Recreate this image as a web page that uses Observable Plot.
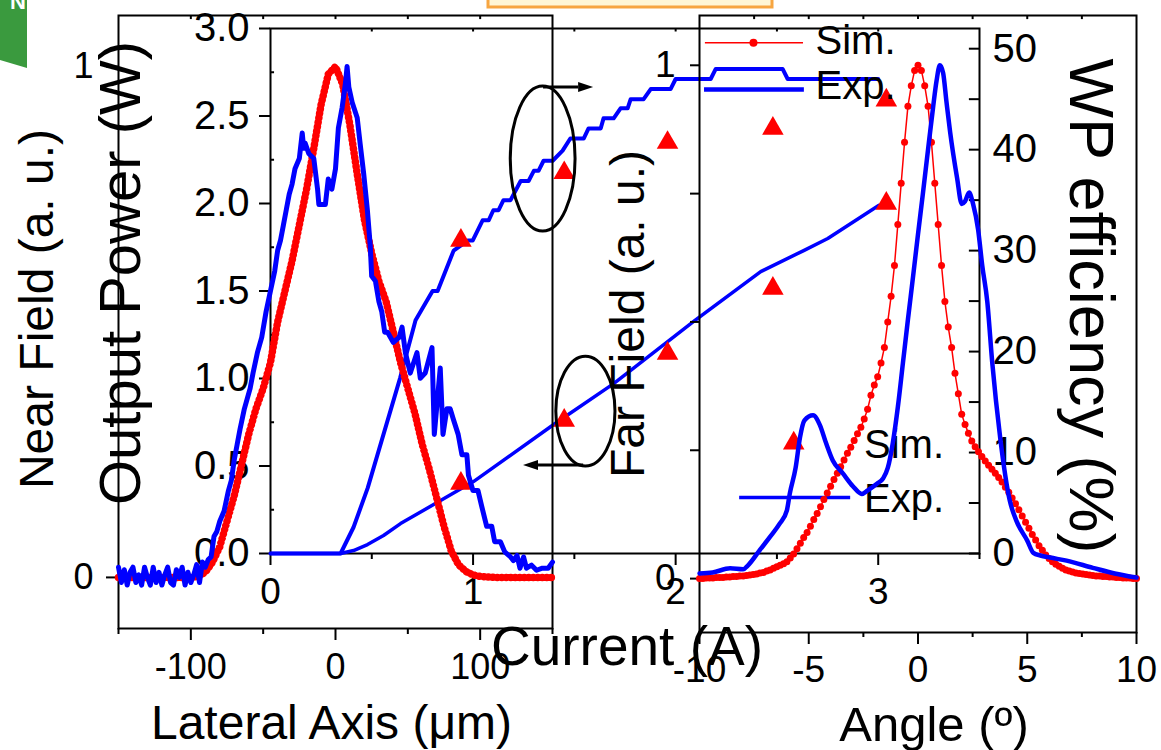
<!DOCTYPE html>
<html><head><meta charset="utf-8">
<script src="https://cdn.jsdelivr.net/npm/d3@7"></script>
<script src="https://cdn.jsdelivr.net/npm/@observablehq/plot@0.6"></script>
<style>
html,body{margin:0;padding:0;background:#fff;}
#chart{position:relative;width:1161px;height:750px;overflow:hidden;background:#fff;}
#chart svg{position:absolute;left:0;top:0;}
</style></head><body><div id="chart"></div>
<script>
// ---------------- DATA ----------------
// Near field (lateral axis in µm, normalized intensity)
const nfExpX = [-150,-148,-146,-144,-142,-140,-138,-136,-134,-132,-130,-128,-126,-124,-122,-120,-118,-116,-114,-112,-110,-108,-106,-104,-102,-100,-98,-96,-94,-92,
  -90,-88,-86,-84,-82,-80,-77,-74,-72,-70,-68,-66,-63,-61,-59,-57,-54,-51,-48,-45,-42,-40,-38,-36,-34,-32,-30,-28,-25,-23,-22,-21,-18.5,-15,-12.4,-11.5,-7,-5,-2.5,0,2,4.6,7,8,9.2,11.5,15,17,19.5,22,24,25,27.6,30,32,34,36,40,44,46,48.3,51.7,56.3,58.6,62,66.7,68.3,72.4,74.3,77,79.3,81.4,84.8,87.4,90.8,91.9,95,98.5,101,104.5,108,110,114,117,121,123,125.5,127.5,130,132,135.5,139,143,147,150];
const nfExpY = [0.02,-0.01,0.015,-0.015,0.01,0.02,-0.01,0.005,-0.015,0.02,0.0,-0.015,0.02,-0.01,0.01,-0.015,0.005,0.02,-0.01,-0.015,0.015,0.0,0.02,-0.015,0.01,-0.01,0.005,0.025,-0.01,0.03,
  0.02,0.035,0.04,0.08,0.09,0.11,0.13,0.17,0.19,0.23,0.26,0.29,0.33,0.35,0.37,0.40,0.44,0.47,0.52,0.56,0.60,0.64,0.66,0.69,0.72,0.75,0.77,0.80,0.82,0.87,0.84,0.85,0.83,0.82,0.76,0.73,0.73,0.78,0.76,0.80,0.88,0.92,0.97,1.0,0.96,0.93,0.90,0.85,0.79,0.72,0.65,0.59,0.58,0.54,0.52,0.48,0.48,0.46,0.47,0.49,0.44,0.40,0.44,0.39,0.40,0.45,0.28,0.41,0.28,0.33,0.33,0.31,0.28,0.24,0.24,0.20,0.17,0.17,0.14,0.10,0.10,0.07,0.07,0.05,0.04,0.033,0.043,0.018,0.04,0.018,0.024,0.014,0.018,0.018,0.03];
const nfSimX = [-150,-100,-95,-90,-85,-80,-75,-70,-65,-60,-55,-50,-45,-40,-35,-30,-25,-20,-15,-10,-5,0,5,10,15,20,25,30,35,40,45,50,55,60,65,70,75,80,85,90,95,100,110,150];
const nfSimY = [0,0,0.002,0.01,0.03,0.06,0.11,0.16,0.22,0.28,0.33,0.37,0.42,0.50,0.56,0.62,0.69,0.76,0.84,0.925,0.985,1.0,0.965,0.885,0.79,0.70,0.635,0.58,0.54,0.48,0.42,0.37,0.32,0.26,0.21,0.155,0.10,0.052,0.025,0.012,0.005,0.002,0,0];

// Power / efficiency vs current (A)
const pwEffCurrent = [0,0.346,0.41,0.48,0.64,0.716,0.80,0.825,0.904,0.973,0.998,1.047,1.077,1.10,1.126,1.15,1.185,1.235,1.274,1.30,1.323,1.348,1.393,1.442,1.48,1.546,1.57,1.63,1.644,1.694,1.728,1.763,1.778,1.842,1.877,1.975,2.0,2.173,2.198,2.528,2.553,3.0];
const pwEff = [0,0,2.6,6.5,17.4,23.1,26.0,26.0,30.0,31.0,31.0,33.0,33.0,34.0,34.0,35.0,35.0,36.9,36.9,37.9,37.9,38.9,38.9,39.9,41.1,41.1,42.1,42.1,43.1,43.1,44.1,44.1,45.0,45.0,46.0,46.0,47.0,47.0,48.0,48.0,47.0,47.0];
const pwPowerCurrent = [0,0.346,0.41,0.479,0.558,0.642,1.002,1.398,1.694,2.089,2.42,2.632,2.751,3.002];
const pwPower = [0,0,0.017,0.051,0.103,0.171,0.411,0.737,0.971,1.326,1.611,1.731,1.80,1.989];
const simCurrent = [0.94,1.45,1.96,2.48,3.04];
const simEff = [31.0,37.7,40.7,42.1,44.9];
const simPower = [0.40,0.76,1.143,1.514,2.0];

// Far field (angle in degrees)
const ffExpX = [-10,-9.4,-8.6,-8.0,-7.8,-7.25,-6.8,-6.33,-6.0,-5.87,-5.6,-5.4,-5.2,-4.8,-4.5,-4.2,-3.9,-3.44,-2.98,-2.57,-2.3,-1.88,-1.6,-1.38,-1.15,-0.92,-0.69,-0.46,-0.23,0,0.23,0.46,0.69,0.85,1.0,1.15,1.3,1.47,1.79,2.0,2.15,2.34,2.52,2.75,2.94,3.17,3.4,3.76,4.2,4.5,5.0,5.28,5.6,6.05,6.8,8.0,9.0,10];
const ffExpY = [0.01,0.012,0.02,0.018,0.025,0.055,0.08,0.107,0.133,0.165,0.216,0.275,0.308,0.318,0.30,0.263,0.23,0.205,0.18,0.165,0.172,0.185,0.195,0.216,0.265,0.335,0.42,0.505,0.587,0.671,0.752,0.836,0.918,0.97,1.0,0.985,0.93,0.87,0.78,0.73,0.735,0.752,0.73,0.68,0.61,0.54,0.42,0.275,0.152,0.113,0.074,0.05,0.045,0.041,0.035,0.021,0.01,0.002];
const ffSimStart = -10, ffSimStep = 20 / 130;
const ffSimY = [0.000,0.000,0.001,0.001,0.001,0.002,0.002,0.002,0.003,0.003,
  0.004,0.004,0.005,0.005,0.006,0.007,0.008,0.009,0.011,0.012,
  0.015,0.017,0.020,0.023,0.026,0.029,0.033,0.040,0.048,0.058,
  0.069,0.080,0.090,0.102,0.115,0.127,0.140,0.154,0.167,0.180,
  0.193,0.205,0.218,0.231,0.244,0.256,0.269,0.282,0.295,0.311,
  0.330,0.357,0.377,0.393,0.420,0.450,0.500,0.550,0.610,0.690,
  0.770,0.850,0.920,0.960,0.990,1.000,
  0.990,0.960,0.920,0.850,0.770,0.690,0.610,0.540,0.490,0.450,
  0.400,0.360,0.320,0.300,0.283,0.268,0.257,0.247,0.238,0.229,
  0.221,0.213,0.205,0.197,0.188,0.178,0.168,0.157,0.146,0.134,
  0.122,0.110,0.098,0.086,0.075,0.064,0.055,0.046,0.039,0.033,
  0.028,0.024,0.020,0.017,0.015,0.013,0.011,0.010,0.009,0.008,
  0.007,0.006,0.005,0.005,0.004,0.004,0.003,0.003,0.002,0.002,
  0.001,0.001,0.001,0.000,0.000];

// Tick values
const nfXMajor = [-100,0,100], nfXMinor = [-150,-50,50,150], nfYTicks = [0,1], nfTopTicks = [-100,-50,0,50,100];
const pwXMajor = [0,1,2,3], pwXMinor = [0.5,1.5,2.5,3.5], pwYTicks = [0,0.5,1,1.5,2,2.5,3], pwYMinor = [0.25,0.75,1.25,1.75,2.25,2.75], pwTopTicks = [0.5,1,1.5,2,2.5,3];
const effMajor = [0,10,20,30,40,50], effAll = [0,5,10,15,20,25,30,35,40,45,50];
const ffXMajor = [-10,-5,0,5,10], ffXMinor = [-7.5,-2.5,2.5,7.5], ffYTicks = [0,0.25,0.5,0.75,1], ffYLabels = [0,1], ffTopTicks = [-7.5,-5,-2.5,0,2.5,5,7.5];

// ---------------- RENDER ----------------
const W = 1161, H = 750;
const FONT = "'Liberation Sans', Arial, Helvetica, sans-serif";
const BLUE = "#0000ff", RED = "#ff0000";
const EFF_MAX = 52, P_MAX = 3;
const toW = e => e * P_MAX / EFF_MAX;
const st = () => ({background: "transparent", fontFamily: FONT, color: "black"});
const zip = (xs, ys, kx, ky) => xs.map((x, i) => ({[kx]: x, [ky]: ys[i]}));
const title = (t, o) => Plot.text([t], {text: d => d, textAnchor: "middle", lineAnchor: "middle", ...o});

const nfExp = zip(nfExpX, nfExpY, "x", "y");
const nfSim = zip(nfSimX, nfSimY, "x", "y");
const effRows = zip(pwEffCurrent, pwEff, "current", "eff");
const powRows = zip(pwPowerCurrent, pwPower, "current", "power");
const simRows = simCurrent.map((c, i) => ({current: c, eff: simEff[i], power: simPower[i]}));
const ffExp = zip(ffExpX, ffExpY, "x", "y");
const ffSim = ffSimY.map((y, i) => ({x: ffSimStart + i * ffSimStep, y}));
const lbl = d => String(d);

// --- Power / WP efficiency chart ---
const pw = Plot.plot({
  width: W, height: H, marginLeft: 270, marginRight: W - 979, marginTop: 28, marginBottom: H - 553,
  style: st(),
  x: {domain: [0, 3.5], label: null}, y: {domain: [0, P_MAX], label: null},
  marks: [
    Plot.frame({stroke: "black", strokeWidth: 2}),
    Plot.axisX(pwXMajor, {tickSize: 12, tickPadding: 12, strokeWidth: 2, fontSize: 37, tickFormat: lbl, label: null}),
    Plot.axisX(pwXMinor, {tickSize: 6, strokeWidth: 2, tickFormat: () => "", label: null}),
    Plot.axisY(pwYTicks, {tickSize: 11, tickPadding: 10, strokeWidth: 2, fontSize: 40, tickFormat: d => d.toFixed(1), label: null}),
    Plot.ruleY(pwYMinor, {x1: 0, x2: 0.02, strokeWidth: 2}),
    Plot.ruleX(pwTopTicks, {y1: P_MAX, y2: P_MAX - 0.02, strokeWidth: 2}),
    Plot.axisY(effMajor.map(toW), {anchor: "right", tickSize: 0, tickPadding: 13, fontSize: 40, tickFormat: d => String(Math.round(d * EFF_MAX / P_MAX)), label: null}),
    Plot.ruleY(effAll.map(toW), {x1: 3.45, x2: 3.5, strokeWidth: 2}),
    Plot.line(powRows, {x: "current", y: "power", stroke: BLUE, strokeWidth: 3.5}),
    Plot.line(effRows, {x: "current", y: d => toW(d.eff), stroke: BLUE, strokeWidth: 4}),
    Plot.dot(simRows, {x: "current", y: d => toW(d.eff), symbol: "triangle", r: 8, fill: RED}),
    Plot.dot(simRows, {x: "current", y: "power", symbol: "triangle", r: 8, fill: RED}),
    // legend
    Plot.dot([0], {x: 2.583, y: 0.63, symbol: "triangle", r: 8, fill: RED}),
    Plot.text(["Sim."], {text: d => d, x: 2.93, y: 0.617, textAnchor: "start", fontSize: 40}),
    Plot.ruleY([0.32], {x1: 2.316, x2: 2.864, stroke: BLUE, strokeWidth: 3.5}),
    Plot.text(["Exp."], {text: d => d, x: 2.93, y: 0.309, textAnchor: "start", fontSize: 40}),
    // titles
    title("Output Power (W)", {frameAnchor: "left", rotate: -90, dx: -149, dy: -18, fontSize: 58}),
    title("Current (A)", {frameAnchor: "bottom", dx: 2, dy: 94, fontSize: 55}),
    title("WP efficiency (%)", {frameAnchor: "right", rotate: 90, dx: 111, dy: 15, fontSize: 63})
  ]
});
// annotations (ellipses with arrows) in power-chart units
const ellipses = [{cx: 1.346, cy: 2.254, rx: 0.16, ry: 0.414}, {cx: 1.557, cy: 0.811, rx: 0.146, ry: 0.314}];
const arrows = [{x1: 1.348, x2: 1.595, y: 2.663}, {x1: 1.546, x2: 1.249, y: 0.503}];
{
  const sx = pw.scale("x"), sy = pw.scale("y");
  const g = d3.select(pw).append("g");
  for (const e of ellipses) {
    g.append("ellipse").attr("cx", sx.apply(e.cx)).attr("cy", sy.apply(e.cy))
      .attr("rx", Math.abs(sx.apply(e.cx + e.rx) - sx.apply(e.cx)))
      .attr("ry", Math.abs(sy.apply(e.cy + e.ry) - sy.apply(e.cy)))
      .attr("fill", "none").attr("stroke", "black").attr("stroke-width", 3);
  }
  for (const a of arrows) {
    const X1 = sx.apply(a.x1), X2 = sx.apply(a.x2), Y = sy.apply(a.y);
    const dir = Math.sign(X2 - X1), hl = 15, hw = 5;
    g.append("line").attr("x1", X1).attr("x2", X2 - dir * hl).attr("y1", Y).attr("y2", Y).attr("stroke", "black").attr("stroke-width", 3);
    g.append("path").attr("d", `M${X2},${Y}L${X2 - dir * hl},${Y - hw}L${X2 - dir * hl},${Y + hw}Z`).attr("fill", "black");
  }
}

// --- Near field chart ---
const nf = Plot.plot({
  width: W, height: H, marginLeft: 118, marginRight: W - 552, marginTop: 15, marginBottom: H - 628,
  style: st(),
  x: {domain: [-150, 150], label: null}, y: {domain: [-0.1, 1.1], label: null},
  marks: [
    Plot.frame({stroke: "black", strokeWidth: 2}),
    Plot.axisX(nfXMajor, {tickSize: 12, tickPadding: 13, strokeWidth: 2, fontSize: 36, tickFormat: lbl, label: null}),
    Plot.axisX(nfXMinor, {tickSize: 6, strokeWidth: 2, tickFormat: () => "", label: null}),
    Plot.axisY(nfYTicks, {tickSize: 12, tickPadding: 13, strokeWidth: 2, fontSize: 36, tickFormat: lbl, label: null}),
    Plot.ruleX(nfTopTicks, {y1: 1.1, y2: 1.092, strokeWidth: 2}),
    Plot.line(nfSim, {x: "x", y: "y", stroke: RED, strokeWidth: 7.5, strokeDasharray: "0.1 4.4", strokeLinecap: "round"}),
    Plot.line(nfExp, {x: "x", y: "y", stroke: BLUE, strokeWidth: 5, strokeLinejoin: "round"}),
    title("Near Field (a. u.)", {frameAnchor: "left", rotate: -90, dx: -81, dy: -13, fontSize: 48}),
    title("Lateral Axis (\u03bcm)", {frameAnchor: "bottom", dx: -4, dy: 95, fontSize: 48})
  ]
});

// --- Far field chart ---
const ff = Plot.plot({
  width: W, height: H, marginLeft: 699, marginRight: W - 1136, marginTop: 15, marginBottom: H - 632,
  style: st(),
  x: {domain: [-10, 10], label: null}, y: {domain: [-0.105, 1.097], label: null},
  marks: [
    Plot.frame({stroke: "black", strokeWidth: 2}),
    Plot.axisX(ffXMajor, {tickSize: 12, tickPadding: 11, strokeWidth: 2, fontSize: 37, tickFormat: lbl, label: null}),
    Plot.axisX(ffXMinor, {tickSize: 5, strokeWidth: 2, tickFormat: () => "", label: null}),
    Plot.axisY(ffYTicks, {tickSize: 9, tickPadding: 15, strokeWidth: 2, fontSize: 37, tickFormat: d => ffYLabels.includes(d) ? String(d) : "", label: null}),
    Plot.ruleX(ffTopTicks, {y1: 1.097, y2: 1.089, strokeWidth: 2}),
    Plot.line(ffSim, {x: "x", y: "y", stroke: RED, strokeWidth: 1.5}),
    Plot.dot(ffSim, {x: "x", y: "y", r: 3.5, fill: RED}),
    Plot.line(ffExp, {x: "x", y: "y", stroke: BLUE, strokeWidth: 4.5, curve: "monotone-x"}),
    // legend
    Plot.ruleY([1.044], {x1: -9.73, x2: -5.24, stroke: RED, strokeWidth: 1.5}),
    Plot.dot([0], {x: -7.53, y: 1.044, r: 4, fill: RED}),
    Plot.text(["Sim."], {text: d => d, x: -4.69, y: 1.046, textAnchor: "start", fontSize: 40}),
    Plot.ruleY([0.953], {x1: -9.77, x2: -5.2, stroke: BLUE, strokeWidth: 4.5}),
    Plot.text(["Exp."], {text: d => d, x: -4.69, y: 0.959, textAnchor: "start", fontSize: 40}),
    // titles
    title("Far Field (a. u.)", {frameAnchor: "left", rotate: -90, dx: -71, dy: -10, fontSize: 48}),
    title("Angle (\u00ba)", {frameAnchor: "bottom", dx: 16, dy: 93, fontSize: 49})
  ]
});

const chart = document.getElementById("chart");
// decorative fragments cut into the top of the original figure
const deco = d3.create("svg").attr("width", W).attr("height", H);
deco.append("path").attr("d", "M0,0L27,0L27,68L0,60Z").attr("fill", "#3a9a3e");
deco.append("text").attr("x", 10).attr("y", 9).attr("fill", "white").attr("font-family", FONT).attr("font-weight", "bold").attr("font-size", 22).text("N");
deco.append("rect").attr("x", 488).attr("y", -10).attr("width", 284).attr("height", 17).attr("fill", "#fff6d5").attr("stroke", "#f7a540").attr("stroke-width", 3);
chart.append(deco.node());
chart.append(pw);
chart.append(nf);
chart.append(ff);
</script></body></html>
